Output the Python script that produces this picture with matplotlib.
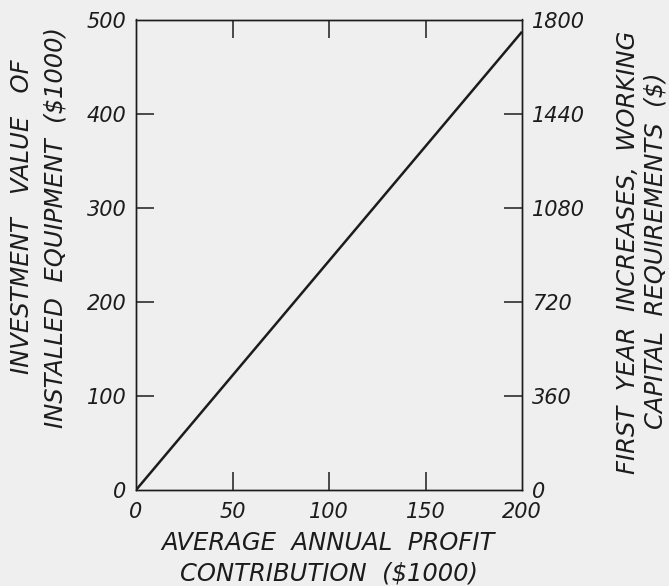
import matplotlib.pyplot as plt
import numpy as np

# data
profit = [0, 200]            # average annual profit contribution ($1000)
investment = [0, 487]        # investment value of installed equipment ($1000)

x_ticks = [0, 50, 100, 150, 200]
left_ticks = [0, 100, 200, 300, 400, 500]
right_ticks = [0, 360, 720, 1080, 1440, 1800]

ink = '#1c1c1c'
paper = '#efefef'

plt.rcParams['font.family'] = 'DejaVu Sans'
plt.rcParams['font.style'] = 'oblique'

fig = plt.figure(figsize=(6.69, 5.86), dpi=100, facecolor=paper)
ax = fig.add_axes([136 / 669, 1 - 490 / 586, (522 - 136) / 669, (490 - 19.5) / 586])
ax.set_facecolor(paper)

ax.plot(profit, investment, color=ink, lw=1.8, solid_capstyle='butt')

ax.set_xlim(0, 200)
ax.set_ylim(0, 500)
ax.set_xticks(x_ticks)
ax.set_xticklabels([str(v) for v in x_ticks])
ax.set_yticks(left_ticks)
ax.set_yticklabels([str(v) for v in left_ticks])
ax.tick_params(direction='in', length=13, width=1.1, color=ink, labelcolor=ink,
               labelsize=15, top=True)
ax.tick_params(axis='x', pad=9)
ax.tick_params(axis='y', pad=7)
for s in ax.spines.values():
    s.set_color(ink)
    s.set_linewidth(1.0)

ax2 = ax.twinx()
ax2.set_ylim(0, 1800)
ax2.set_yticks(right_ticks)
ax2.set_yticklabels([str(v) for v in right_ticks])
ax2.tick_params(direction='in', length=13, width=1.1, color=ink, labelcolor=ink,
                labelsize=15, pad=7)
for s in ax2.spines.values():
    s.set_color(ink)
    s.set_linewidth(1.0)

# no tick marks at the corners
for axis in (ax.xaxis, ax.yaxis, ax2.yaxis):
    ticks = axis.get_major_ticks()
    for t in (ticks[0], ticks[-1]):
        t.tick1line.set_visible(False)
        t.tick2line.set_visible(False)

lab = dict(fontsize=17.5, color=ink, style='oblique', ha='center', va='center')
fig.text(328 / 669, 1 - 543 / 586, 'AVERAGE  ANNUAL  PROFIT', **lab)
fig.text(329 / 669, 1 - 573 / 586, 'CONTRIBUTION  ($1000)', **lab)
fig.text(22 / 669, 1 - 217 / 586, 'INVESTMENT   VALUE   OF', rotation=90, **lab)
fig.text(55 / 669, 1 - 228 / 586, 'INSTALLED  EQUIPMENT  ($1000)', rotation=90, **lab)
fig.text(628 / 669, 1 - 252 / 586, 'FIRST  YEAR  INCREASES,  WORKING', rotation=90, **lab)
fig.text(655 / 669, 1 - 251 / 586, 'CAPITAL  REQUIREMENTS  ($)', rotation=90, **lab)

fig.savefig('out.png', dpi=100, facecolor=paper)
